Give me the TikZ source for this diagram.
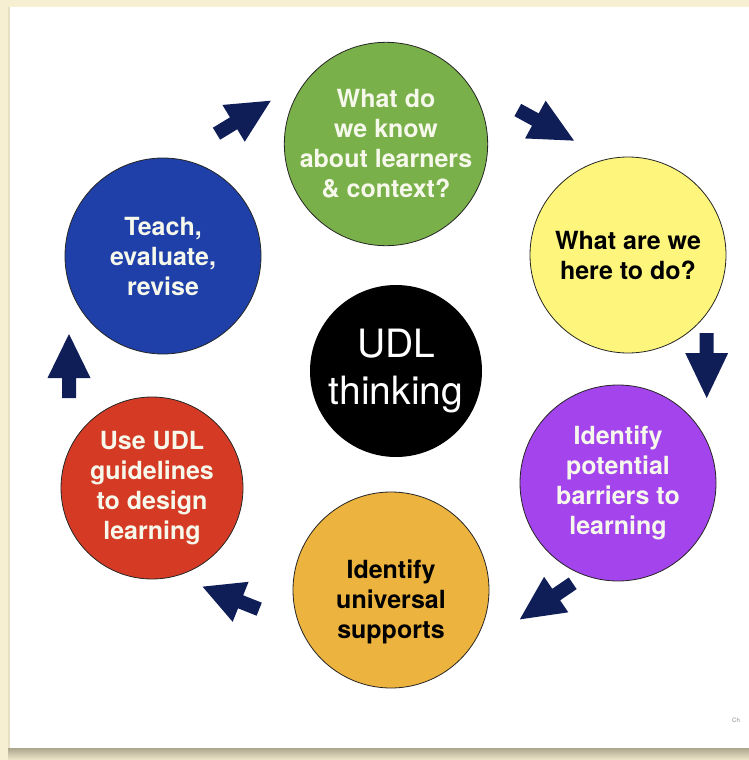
\documentclass[tikz,border=0pt]{standalone}
\usepackage{fontspec}
\setmainfont{TeX Gyre Heros}
\definecolor{paper}{RGB}{247,239,210}
\definecolor{shade}{RGB}{172,166,142}
\definecolor{udlgreen}{RGB}{122,176,74}
\definecolor{udlyellow}{RGB}{254,245,125}
\definecolor{udlpurple}{RGB}{164,68,236}
\definecolor{udlorange}{RGB}{236,179,62}
\definecolor{udlred}{RGB}{212,58,36}
\definecolor{udlblue}{RGB}{30,64,168}
\definecolor{arrowblue}{RGB}{16,30,88}
\definecolor{softwhite}{RGB}{246,248,236}
\begin{document}
\begin{tikzpicture}[x=1pt,y=-1pt,
  stage/.style={circle, draw=black!85, line width=0.8pt, minimum size=196pt,
    inner sep=0pt, align=center, font=\bfseries\fontsize{25}{30}\selectfont},
  stagetext/.style={align=center, inner sep=0pt, font=\bfseries\fontsize{25}{30}\selectfont},
  lighttext/.style={text=softwhite},
  darktext/.style={text=black},
  pics/blockarrow/.style={code={
    \fill[arrowblue] (0,-7) -- (20,-7) -- (20,-21.5) -- (#1,0)
      -- (20,21.5) -- (20,7) -- (0,7) -- cycle;}},
]
% page background and card
\useasboundingbox (0,0) rectangle (749,760);
\fill[paper] (0,0) rectangle (749,760);
\fill[top color=shade, bottom color=paper!90!shade] (8,748) rectangle (749,760);
\fill[paper!80!shade] (8,7) rectangle (10,748);
\fill[white] (10,7) rectangle (749,748);

% the six stages around the cycle
\node[stage, fill=udlgreen, lighttext] (know) at (386,144)
  {What do\\we know\\about learners\\\& context?};
\node[stage, fill=udlyellow, darktext] (goal) at (628,255)
  {What are we\\here to do?};
\node[stage, fill=udlpurple, lighttext] (barriers) at (618,483)
  {Identify\\potential\\barriers to\\learning};
\node[stage, fill=udlorange] (supports) at (391,590) {};
\node[stagetext, darktext] (supportstext) at ([yshift=-12pt]supports.center)
  {Identify\\universal\\supports};
\node[stage, fill=udlred, lighttext, minimum size=182pt] (design) at (152,488)
  {Use UDL\\guidelines\\to design\\learning};
\node[stage, fill=udlblue, lighttext] (teach) at (163,256)
  {Teach,\\evaluate,\\revise};

% centre
\node[circle, fill=black, minimum size=172pt, inner sep=0pt, align=center,
  text=white, font=\fontsize{39}{47}\selectfont] (udl) at (396,371)
  {UDL\\thinking};

% block arrows between the stages
\pic[rotate=31.3]  at (216.5,133.7) {blockarrow=63.5};
\pic[rotate=-28.6] at (517.8,110)   {blockarrow=64};
\pic[rotate=-90]   at (706.7,333)   {blockarrow=65};
\pic[rotate=214.3] at (572.7,583.3) {blockarrow=64};
\pic[rotate=158.3] at (259.2,609.2) {blockarrow=61};
\pic[rotate=90]    at (69,398)      {blockarrow=64};

\node[text=black!45, font=\fontsize{6}{7}\selectfont] (corner) at (736,720) {Ch};
\end{tikzpicture}
\end{document}
